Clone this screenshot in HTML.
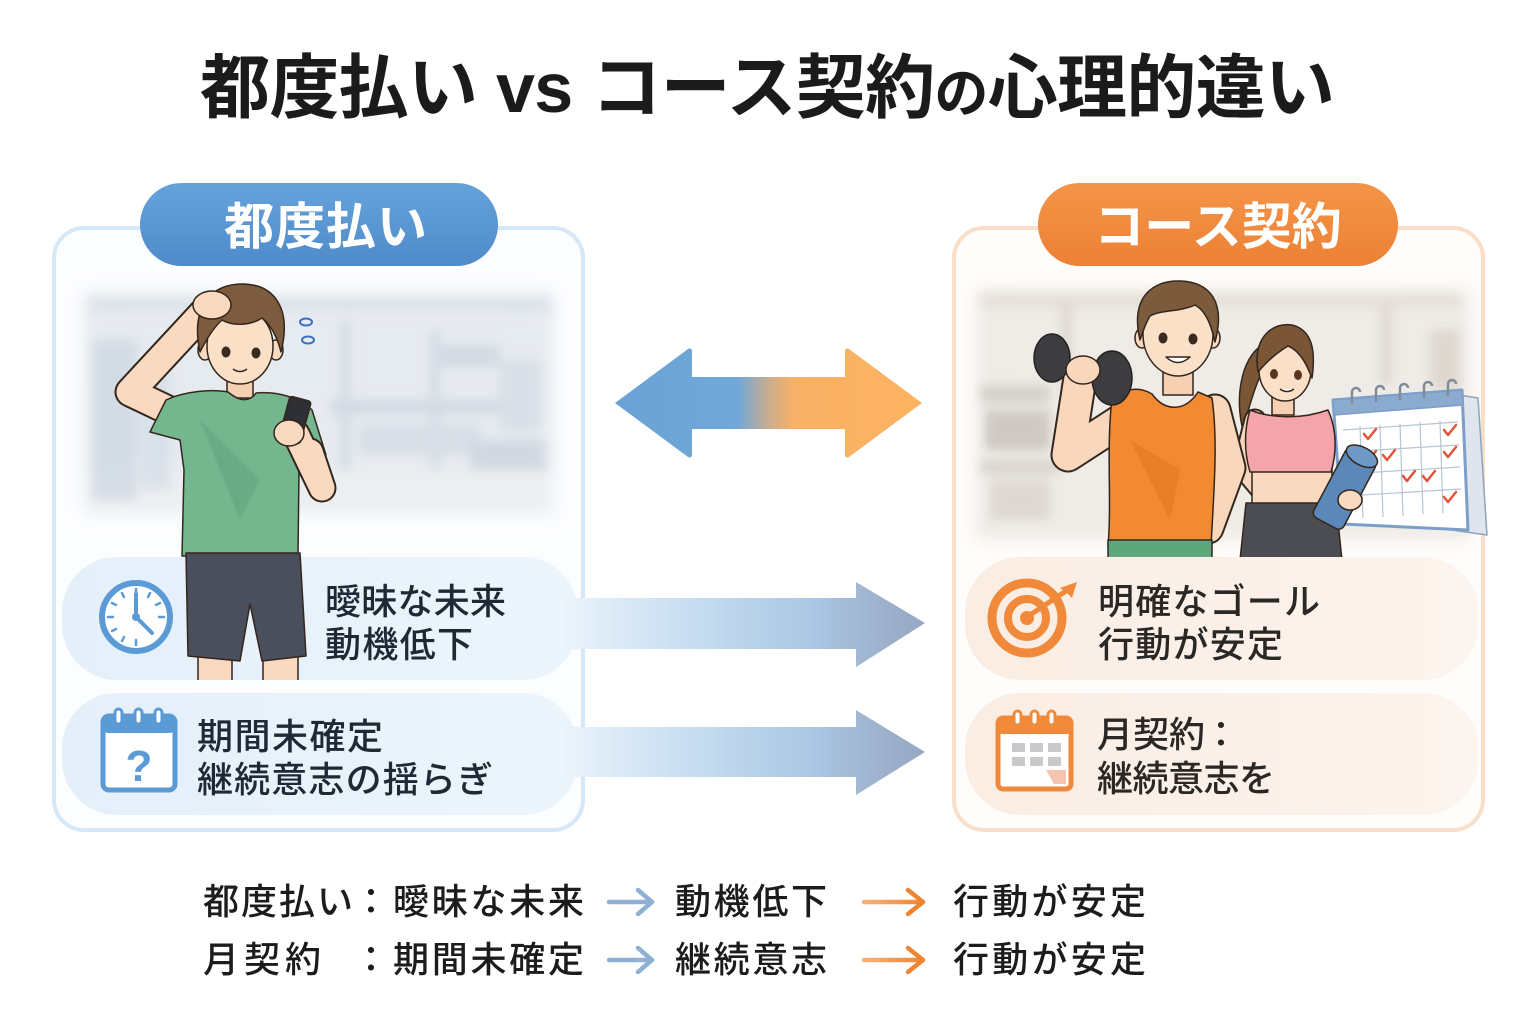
<!DOCTYPE html>
<html><head><meta charset="utf-8"><style>
html,body{margin:0;padding:0;background:#fff;}
svg{display:block;}
text{font-family:"Liberation Sans","Noto Sans CJK JP",sans-serif;}
</style></head><body>
<svg width="1536" height="1024" viewBox="0 0 1536 1024" xmlns="http://www.w3.org/2000/svg">
<defs>
  <linearGradient id="dbl" x1="615" y1="0" x2="922" y2="0" gradientUnits="userSpaceOnUse">
    <stop offset="0" stop-color="#6aa2d6"/><stop offset="0.4" stop-color="#72a8d8"/>
    <stop offset="0.5" stop-color="#c9ad90"/><stop offset="0.58" stop-color="#f8b066"/>
    <stop offset="1" stop-color="#fdb360"/>
  </linearGradient>
  <linearGradient id="ar" x1="565" y1="0" x2="925" y2="0" gradientUnits="userSpaceOnUse">
    <stop offset="0" stop-color="#eaf3fb"/><stop offset="0.35" stop-color="#c7ddf1"/>
    <stop offset="0.7" stop-color="#a9c6e3"/><stop offset="0.82" stop-color="#a1b7d2"/>
    <stop offset="1" stop-color="#95a7c3"/>
  </linearGradient>
  <linearGradient id="itemL" x1="0" y1="0" x2="1" y2="0">
    <stop offset="0" stop-color="#e4effa"/><stop offset="1" stop-color="#edf5fc"/>
  </linearGradient>
  <linearGradient id="itemR" x1="0" y1="0" x2="1" y2="0">
    <stop offset="0" stop-color="#faede3"/><stop offset="1" stop-color="#fcf4ee"/>
  </linearGradient>
  <linearGradient id="pillB" x1="0" y1="0" x2="0" y2="1">
    <stop offset="0" stop-color="#66a2da"/><stop offset="1" stop-color="#4f8bca"/>
  </linearGradient>
  <linearGradient id="pillO" x1="0" y1="0" x2="0" y2="1">
    <stop offset="0" stop-color="#f49448"/><stop offset="1" stop-color="#ec8135"/>
  </linearGradient>
  <linearGradient id="oar" x1="862" y1="0" x2="926" y2="0" gradientUnits="userSpaceOnUse">
    <stop offset="0" stop-color="#f6b27a"/><stop offset="1" stop-color="#ee842f"/>
  </linearGradient>
  <filter id="blur" x="-10%" y="-10%" width="120%" height="120%"><feGaussianBlur stdDeviation="5"/></filter>
  <filter id="blur2" x="-10%" y="-10%" width="120%" height="120%"><feGaussianBlur stdDeviation="8"/></filter>
  <clipPath id="clipL"><rect x="56" y="230" width="525" height="598" rx="28"/></clipPath>
  <clipPath id="clipR"><rect x="956" y="230" width="525" height="598" rx="28"/></clipPath>
  <clipPath id="legclip"><rect x="0" y="0" width="1536" height="680"/></clipPath>
  <clipPath id="rclip"><rect x="0" y="0" width="1536" height="557"/></clipPath>
</defs>

<rect width="1536" height="1024" fill="#ffffff"/>

<!-- Title -->
<text x="200" y="112" font-size="70" font-weight="700" fill="#1b1b1b" textLength="1135" lengthAdjust="spacing">都度払い vs コース契約<tspan font-size="54">の</tspan>心理的違い</text>

<!-- LEFT PANEL -->
<rect x="54" y="228" width="529" height="602" rx="30" fill="#fcfdff" stroke="#d6e7f7" stroke-width="4"/>
<g clip-path="url(#clipL)">
  <g filter="url(#blur2)">
    <rect x="84" y="292" width="470" height="222" fill="#e6ebf0"/>
    <rect x="84" y="470" width="470" height="45" fill="#eceff2"/>
  </g>
  <g filter="url(#blur)" opacity="0.6">
    <rect x="90" y="300" width="460" height="10" fill="#d2dae3"/>
    <rect x="92" y="340" width="45" height="160" fill="#c7d2de"/>
    <rect x="140" y="360" width="30" height="130" fill="#cfd9e4"/>
    <rect x="340" y="320" width="10" height="150" fill="#c9d3de"/>
    <rect x="430" y="330" width="10" height="140" fill="#c9d3de"/>
    <rect x="440" y="345" width="60" height="22" fill="#c6d0db"/>
    <rect x="330" y="400" width="200" height="14" fill="#c5cfda"/>
    <rect x="360" y="425" width="120" height="30" fill="#cdd6e0"/>
    <rect x="470" y="440" width="75" height="30" fill="#c2ccd8"/>
    <rect x="500" y="360" width="40" height="70" fill="#d0d8e1"/>
  </g>
  <rect x="62" y="557" width="516" height="123" rx="55" fill="url(#itemL)"/>
  <rect x="62" y="693" width="516" height="122" rx="55" fill="url(#itemL)"/>
</g>
<rect x="140" y="183" width="358" height="83" rx="41.5" fill="url(#pillB)"/>
<text x="326" y="244" font-size="50" font-weight="700" fill="#ffffff" text-anchor="middle" letter-spacing="1">都度払い</text>

<!-- left person -->
<g stroke="#33261d" stroke-width="1.5" stroke-linejoin="round">
  <polyline points="172,412 130,392 206,310" fill="none" stroke="#33261d" stroke-width="31" stroke-linecap="round"/>
  <polyline points="172,412 130,392 206,310" fill="none" stroke="#f9d9bf" stroke-width="27" stroke-linecap="round"/>
  <rect x="227" y="372" width="26" height="26" fill="#f6d0b3"/>
  <path d="M166,400 C185,391 212,389 228,392 C240,402 250,402 256,393 C278,391 300,398 312,410 L326,455 L305,463 L299,470 L298,556 L182,556 L184,470 L180,440 L150,432 Z" fill="#74b78f"/>
  <path d="M200,420 L240,520 L260,480 Z" fill="#69ab86" stroke="none"/>
  <ellipse cx="205" cy="350" rx="7" ry="10" fill="#f9d9bf"/>
  <ellipse cx="276" cy="350" rx="7" ry="10" fill="#f9d9bf"/>
  <ellipse cx="240" cy="346" rx="33" ry="38" fill="#fbe0c8"/>
  <path d="M200,352 C190,306 212,283 244,284 C274,285 292,308 281,352 C277,336 270,324 262,318 C250,326 232,326 222,320 C213,328 206,340 200,352 Z" fill="#7c5b3f"/>
  <ellipse cx="212" cy="305" rx="19" ry="14" fill="#f9d9bf"/>
  <ellipse cx="226" cy="352" rx="4.5" ry="5.5" fill="#3a2a20" stroke="none"/>
  <ellipse cx="256" cy="353" rx="4.5" ry="5.5" fill="#3a2a20" stroke="none"/>
  <path d="M233,369 Q240,374 247,369" fill="none"/>
  <polyline points="310,452 322,488 296,434" fill="none" stroke="#33261d" stroke-width="29" stroke-linecap="round"/>
  <polyline points="310,452 322,488 296,434" fill="none" stroke="#f9d9bf" stroke-width="25" stroke-linecap="round"/>
  <rect x="284" y="398" width="22" height="44" rx="3" fill="#2f3035" transform="rotate(15 295 420)"/>
  <ellipse cx="289" cy="433" rx="15" ry="13" fill="#f9d9bf"/>
  <g clip-path="url(#legclip)">
    <rect x="198" y="650" width="34" height="40" fill="#f9d9bf"/>
    <rect x="263" y="650" width="35" height="40" fill="#f9d9bf"/>
  </g>
  <path d="M186,553 L300,553 L306,656 L262,661 L250,604 L240,661 L188,656 Z" fill="#4a4f5d"/>
</g>
<ellipse cx="306" cy="322" rx="6" ry="3.5" fill="none" stroke="#3d6fc0" stroke-width="2"/>
<ellipse cx="308" cy="340" rx="6" ry="3.5" fill="none" stroke="#3d6fc0" stroke-width="2"/>

<!-- clock icon -->
<circle cx="136" cy="617" r="34" fill="#fff" stroke="#5b9bd5" stroke-width="6"/>
<g stroke="#5b9bd5" stroke-width="2.5" stroke-linecap="round">
  <line x1="136" y1="589" x2="136" y2="594"/><line x1="136" y1="640" x2="136" y2="645"/>
  <line x1="108" y1="617" x2="113" y2="617"/><line x1="159" y1="617" x2="164" y2="617"/>
  <line x1="150" y1="593" x2="148" y2="597"/><line x1="122" y1="593" x2="124" y2="597"/>
  <line x1="112" y1="603" x2="116" y2="605"/><line x1="160" y1="603" x2="156" y2="605"/>
  <line x1="112" y1="631" x2="116" y2="629"/><line x1="122" y1="641" x2="124" y2="637"/>
</g>
<line x1="136" y1="617" x2="136" y2="594" stroke="#5b9bd5" stroke-width="4" stroke-linecap="round"/>
<line x1="136" y1="617" x2="152" y2="633" stroke="#5b9bd5" stroke-width="4" stroke-linecap="round"/>
<circle cx="136" cy="617" r="4" fill="#5b9bd5"/>

<!-- calendar ? icon -->
<rect x="103" y="716" width="72" height="74" rx="6" fill="#fff" stroke="#5b9bd5" stroke-width="5"/>
<rect x="103" y="716" width="72" height="17" rx="5" fill="#5b9bd5"/>
<g fill="#fff" stroke="#5b9bd5" stroke-width="3">
  <rect x="115" y="709" width="7" height="15" rx="3.5"/>
  <rect x="135" y="709" width="7" height="15" rx="3.5"/>
  <rect x="155" y="709" width="7" height="15" rx="3.5"/>
</g>
<text x="139" y="781" font-size="44" font-weight="700" fill="#5b9bd5" text-anchor="middle">?</text>

<!-- left item texts -->
<text x="325" y="614" font-size="36" font-weight="500" fill="#1f2835" textLength="181" lengthAdjust="spacing">曖昧な未来</text>
<text x="325" y="657" font-size="36" font-weight="500" fill="#1f2835" textLength="148" lengthAdjust="spacing">動機低下</text>
<text x="197" y="749" font-size="36" font-weight="500" fill="#1f2835" textLength="186" lengthAdjust="spacing">期間未確定</text>
<text x="197" y="792" font-size="36" font-weight="500" fill="#1f2835" textLength="296" lengthAdjust="spacing">継続意志の揺らぎ</text>

<!-- RIGHT PANEL -->
<rect x="954" y="228" width="529" height="602" rx="30" fill="#fffdfb" stroke="#f8dfca" stroke-width="4"/>
<g clip-path="url(#clipR)">
  <g filter="url(#blur2)">
    <rect x="976" y="288" width="495" height="252" fill="#efebe6"/>
  </g>
  <g filter="url(#blur)" opacity="0.65">
    <rect x="980" y="295" width="480" height="12" fill="#e0d8cf"/>
    <rect x="1060" y="300" width="12" height="90" fill="#d8d0c8"/>
    <rect x="1380" y="305" width="12" height="80" fill="#d8d0c8"/>
    <rect x="980" y="385" width="70" height="18" fill="#c9c3bd"/>
    <rect x="985" y="410" width="65" height="40" fill="#bfb8b2"/>
    <rect x="980" y="460" width="80" height="14" fill="#cfc8c1"/>
    <rect x="990" y="480" width="60" height="40" fill="#d6cfc8"/>
    <rect x="1430" y="330" width="30" height="60" fill="#d6cec5"/>
  </g>
  <rect x="965" y="557" width="513" height="123" rx="55" fill="url(#itemR)"/>
  <rect x="965" y="693" width="513" height="122" rx="55" fill="url(#itemR)"/>
</g>
<rect x="1038" y="183" width="360" height="83" rx="41.5" fill="url(#pillO)"/>
<text x="1218" y="244" font-size="50" font-weight="700" fill="#ffffff" text-anchor="middle">コース契約</text>

<!-- right illustration -->
<g clip-path="url(#rclip)" stroke="#33261d" stroke-width="1.5" stroke-linejoin="round">
  <polygon points="1440,392 1478,398 1487,535 1452,530" fill="#dfe5ec" stroke="#8ea3bd"/>
  <polygon points="1333,400 1462,390 1468,530 1342,524" fill="#ffffff" stroke="#7c9ec8" stroke-width="3"/>
  <polygon points="1333,400 1462,390 1463,405 1334,415" fill="#8aaad0" stroke="#7c9ec8"/>
  <g stroke="#b8c4d2" stroke-width="1.2" fill="none">
    <line x1="1343" y1="430" x2="1458" y2="422"/><line x1="1344" y1="452" x2="1459" y2="445"/>
    <line x1="1345" y1="474" x2="1460" y2="467"/><line x1="1346" y1="496" x2="1461" y2="489"/>
    <line x1="1360" y1="426" x2="1363" y2="518"/><line x1="1380" y1="425" x2="1383" y2="517"/>
    <line x1="1400" y1="424" x2="1403" y2="516"/><line x1="1420" y1="422" x2="1423" y2="514"/>
    <line x1="1440" y1="421" x2="1443" y2="513"/>
  </g>
  <g stroke="#e0553a" stroke-width="2.5" fill="none" stroke-linecap="round">
    <polyline points="1364,434 1368,439 1376,429"/>
    <polyline points="1364,456 1368,461 1376,451"/>
    <polyline points="1383,455 1387,460 1395,450"/>
    <polyline points="1444,430 1448,435 1456,425"/>
    <polyline points="1444,452 1448,457 1456,447"/>
    <polyline points="1403,476 1407,481 1415,471"/>
    <polyline points="1423,476 1427,481 1435,471"/>
    <polyline points="1444,497 1448,502 1456,492"/>
  </g>
  <g fill="none" stroke="#7f8c9a" stroke-width="2.5">
    <path d="M1352,404 v-12 a4,4 0 0 1 8,0"/><path d="M1376,402 v-12 a4,4 0 0 1 8,0"/>
    <path d="M1400,400 v-12 a4,4 0 0 1 8,0"/><path d="M1424,398 v-12 a4,4 0 0 1 8,0"/>
    <path d="M1448,396 v-12 a4,4 0 0 1 8,0"/>
  </g>

  <!-- woman -->
  <path d="M1262,345 C1240,360 1235,400 1243,430 C1248,410 1255,385 1265,365 Z" fill="#7a5636"/>
  <polyline points="1255,420 1243,468 1268,498" fill="none" stroke="#33261d" stroke-width="23" stroke-linecap="round"/>
  <polyline points="1255,420 1243,468 1268,498" fill="none" stroke="#f9d7bd" stroke-width="19" stroke-linecap="round"/>
  <rect x="1272" y="395" width="22" height="20" fill="#f6d0b3"/>
  <rect x="1252" y="466" width="80" height="40" fill="#f9d9bf"/>
  <path d="M1250,410 C1270,418 1300,420 1328,410 C1338,432 1336,455 1331,472 L1250,472 C1244,452 1244,430 1250,410 Z" fill="#f4a4ab"/>
  <path d="M1246,503 L1336,503 L1342,560 L1240,560 Z" fill="#4c4d52"/>
  <ellipse cx="1285" cy="370" rx="26" ry="31" fill="#fbe0c8"/>
  <path d="M1258,372 C1252,335 1275,322 1292,325 C1312,330 1316,350 1312,378 C1305,360 1298,350 1288,346 C1278,352 1268,360 1258,372 Z" fill="#7a5636"/>
  <ellipse cx="1274" cy="374" rx="4" ry="5" fill="#5a3520" stroke="none"/>
  <ellipse cx="1298" cy="375" rx="4" ry="5" fill="#5a3520" stroke="none"/>
  <path d="M1280,389 Q1287,394 1294,389" fill="#fff"/>
  <g transform="rotate(28 1345 488)">
    <rect x="1328" y="450" width="34" height="78" rx="6" fill="#5b87b9"/>
    <ellipse cx="1345" cy="452" rx="17" ry="9" fill="#6e98c6"/>
  </g>
  <ellipse cx="1350" cy="500" rx="12" ry="10" fill="#f9d9bf"/>

  <!-- man -->
  <polyline points="1215,410 1230,468 1208,528" fill="none" stroke="#33261d" stroke-width="33" stroke-linecap="round"/>
  <polyline points="1215,410 1230,468 1208,528" fill="none" stroke="#f9d7bd" stroke-width="29" stroke-linecap="round"/>
  <polyline points="1122,420 1068,455 1080,378" fill="none" stroke="#33261d" stroke-width="35" stroke-linecap="round"/>
  <polyline points="1122,420 1068,455 1080,378" fill="none" stroke="#f9d7bd" stroke-width="31" stroke-linecap="round"/>
  <rect x="1163" y="365" width="30" height="30" fill="#f6d0b3"/>
  <path d="M1112,398 C1130,386 1142,388 1152,394 C1165,412 1185,412 1198,392 L1212,398 C1218,440 1214,490 1211,546 L1108,546 C1112,500 1106,450 1112,398 Z" fill="#f28a31"/>
  <path d="M1130,440 L1170,520 L1180,470 Z" fill="#e87f27" stroke="none"/>
  <rect x="1108" y="540" width="104" height="22" fill="#5ea77d"/>
  <ellipse cx="1142" cy="338" rx="7" ry="10" fill="#f9d7bd"/>
  <ellipse cx="1213" cy="338" rx="7" ry="10" fill="#f9d7bd"/>
  <ellipse cx="1178" cy="334" rx="35" ry="42" fill="#fbe0c8"/>
  <path d="M1140,340 C1130,298 1152,280 1180,281 C1210,282 1226,302 1215,342 C1210,320 1204,310 1195,305 C1180,312 1160,310 1150,316 C1145,324 1143,332 1140,340 Z" fill="#7c5a3c"/>
  <ellipse cx="1163" cy="338" rx="4.5" ry="5.5" fill="#3a2a20" stroke="none"/>
  <ellipse cx="1193" cy="339" rx="4.5" ry="5.5" fill="#3a2a20" stroke="none"/>
  <path d="M1166,357 Q1178,368 1190,357 Z" fill="#fff"/>
  <line x1="1052" y1="358" x2="1112" y2="378" stroke="#2e2e30" stroke-width="8"/>
  <ellipse cx="1052" cy="358" rx="18" ry="24" fill="#3d3d40" stroke="#222"/>
  <ellipse cx="1112" cy="378" rx="20" ry="27" fill="#3d3d40" stroke="#222"/>
  <ellipse cx="1083" cy="370" rx="17" ry="14" fill="#f9d7bd"/>
</g>

<!-- target icon -->
<circle cx="1027" cy="618" r="35" fill="none" stroke="#f08a3a" stroke-width="9"/>
<circle cx="1027" cy="618" r="19" fill="none" stroke="#f08a3a" stroke-width="8"/>
<circle cx="1027" cy="618" r="7" fill="#f08a3a"/>
<line x1="1030" y1="615" x2="1066" y2="591" stroke="#f08a3a" stroke-width="5" stroke-linecap="round"/>
<polygon points="1060,588 1077,582 1072,598 1066,592" fill="#f08a3a"/>

<!-- calendar right icon -->
<rect x="998" y="718" width="73" height="71" rx="5" fill="#fff" stroke="#f08a3a" stroke-width="5"/>
<rect x="998" y="718" width="73" height="16" rx="4" fill="#f08a3a"/>
<g fill="#fff" stroke="#f08a3a" stroke-width="3">
  <rect x="1014" y="711" width="7" height="14" rx="3.5"/>
  <rect x="1031" y="711" width="7" height="14" rx="3.5"/>
  <rect x="1048" y="711" width="7" height="14" rx="3.5"/>
</g>
<g fill="#c9c9cb">
  <rect x="1012" y="743" width="13" height="9"/><rect x="1030" y="743" width="13" height="9"/><rect x="1048" y="743" width="13" height="9"/>
  <rect x="1012" y="757" width="13" height="9"/><rect x="1030" y="757" width="13" height="9"/><rect x="1048" y="757" width="13" height="9"/>
</g>
<path d="M1046,770 L1066,770 L1066,784 L1054,784 Z" fill="#f3c4b0"/>

<!-- right item texts -->
<text x="1098" y="614" font-size="36" font-weight="500" fill="#2a2725" textLength="222" lengthAdjust="spacing">明確なゴール</text>
<text x="1098" y="657" font-size="36" font-weight="500" fill="#2a2725" textLength="185" lengthAdjust="spacing">行動が安定</text>
<text x="1097" y="747" font-size="36" font-weight="500" fill="#2a2725" textLength="108" lengthAdjust="spacing">月契約</text>
<text x="1203" y="747" font-size="36" font-weight="500" fill="#2a2725">：</text>
<text x="1097" y="791" font-size="36" font-weight="500" fill="#2a2725" textLength="178" lengthAdjust="spacing">継続意志を</text>

<!-- center double arrow -->
<path d="M615,403 L688,349 Q692,347 692,352 L692,377 L845,377 L845,352 Q845,347 849,349 L922,403 L849,457 Q845,459 845,454 L845,429 L692,429 L692,454 Q692,459 688,457 Z" fill="url(#dbl)"/>

<!-- flow arrows -->
<path d="M565,598 L856,598 L856,582 L925,623 L856,667 L856,649 L565,649 Z" fill="url(#ar)"/>
<path d="M565,727 L856,727 L856,710 L925,752 L856,795 L856,777 L565,777 Z" fill="url(#ar)"/>

<!-- bottom summary -->
<g font-size="36" font-weight="500" fill="#1c1c1c">
  <text x="203" y="914" textLength="150" lengthAdjust="spacing">都度払い</text>
  <text x="353" y="914">：</text>
  <text x="393" y="914" textLength="191" lengthAdjust="spacing">曖昧な未来</text>
  <text x="675" y="914" textLength="152" lengthAdjust="spacing">動機低下</text>
  <text x="953" y="914" textLength="193" lengthAdjust="spacing">行動が安定</text>

  <text x="203" y="972" textLength="118" lengthAdjust="spacing">月契約</text>
  <text x="353" y="972">：</text>
  <text x="393" y="972" textLength="191" lengthAdjust="spacing">期間未確定</text>
  <text x="675" y="972" textLength="152" lengthAdjust="spacing">継続意志</text>
  <text x="953" y="972" textLength="193" lengthAdjust="spacing">行動が安定</text>
</g>
<g fill="none" stroke-width="4.5" stroke-linecap="round" stroke-linejoin="round">
  <line x1="609" y1="902" x2="651" y2="902" stroke="#8eb0d2"/>
  <polyline points="638,890 652,902 638,914" stroke="#8eb0d2"/>
  <line x1="609" y1="960" x2="651" y2="960" stroke="#8eb0d2"/>
  <polyline points="638,948 652,960 638,972" stroke="#8eb0d2"/>
  <line x1="864" y1="902" x2="922" y2="902" stroke="url(#oar)"/>
  <polyline points="908,890 923,902 908,914" stroke="#ee842f"/>
  <line x1="864" y1="960" x2="922" y2="960" stroke="url(#oar)"/>
  <polyline points="908,948 923,960 908,972" stroke="#ee842f"/>
</g>
</svg>
</body></html>
